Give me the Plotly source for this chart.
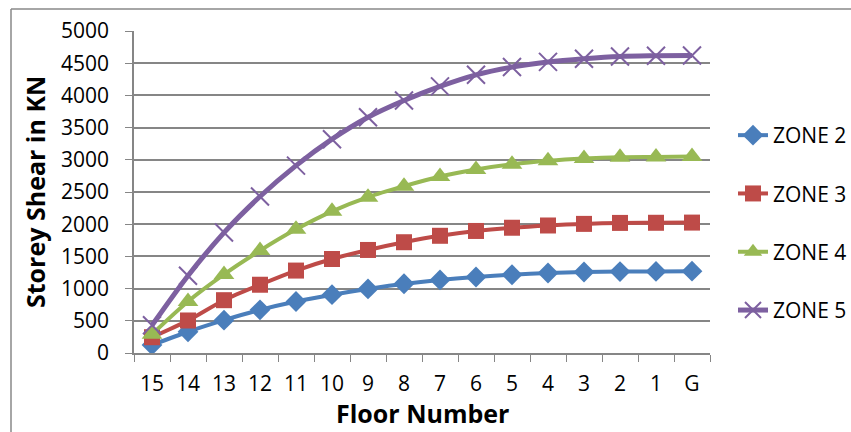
import plotly.graph_objects as go

floors = ["15", "14", "13", "12", "11", "10", "9", "8", "7", "6", "5", "4", "3", "2", "1", "G"]
zone2 = [125, 330, 510, 670, 800, 905, 995, 1075, 1135, 1180, 1215, 1242, 1258, 1264, 1267, 1270]
zone3 = [245, 505, 820, 1060, 1280, 1460, 1600, 1720, 1820, 1895, 1945, 1980, 2005, 2020, 2022, 2025]
zone4 = [290, 800, 1220, 1590, 1920, 2200, 2420, 2590, 2740, 2850, 2930, 2985, 3020, 3040, 3045, 3050]
zone5 = [430, 1200, 1870, 2430, 2910, 3320, 3660, 3920, 4140, 4320, 4440, 4520, 4570, 4605, 4615, 4620]
series_names = ["ZONE 2", "ZONE 3", "ZONE 4", "ZONE 5"]
y_ticks = [0, 500, 1000, 1500, 2000, 2500, 3000, 3500, 4000, 4500, 5000]

colors = ["#4A7EBB", "#BE4B48", "#98B954", "#7D60A0"]
symbols = ["diamond", "square", "triangle-up", "x-thin"]
msizes = [16, 16, 18, 18]
lwidths = [4, 4, 4, 5]

W, H = 851, 432
L, R, T, B = 134, 141, 31, 79
pw, ph = W - L - R, H - T - B

fig = go.Figure()
for i, (name, vals) in enumerate(zip(series_names, [zone2, zone3, zone4, zone5])):
    marker = dict(symbol=symbols[i], size=msizes[i], color=colors[i])
    if symbols[i] == "x-thin":
        marker["line"] = dict(color=colors[i], width=2)
    fig.add_trace(go.Scatter(
        x=floors, y=vals, name=name, mode="lines+markers",
        line=dict(color=colors[i], width=lwidths[i], shape="spline", smoothing=0.8),
        marker=marker, legendgroup=name,
    ))

font = "Open Sans"
fig.update_layout(
    width=W, height=H,
    margin=dict(l=L, r=R, t=T, b=B, autoexpand=False),
    paper_bgcolor="white", plot_bgcolor="white",
    font=dict(family=font, size=21, color="#000000"),
    showlegend=True,
    legend=dict(x=(733 - L) / pw, xanchor="left", y=(353 - 115) / ph, yanchor="top",
                font=dict(family=font, size=21, color="#000000"),
                tracegroupgap=28, itemwidth=30, bgcolor="rgba(0,0,0,0)"),
    xaxis=dict(type="category", range=[-0.5, 15.5], showgrid=False,
               showline=True, linecolor="#868686", linewidth=1.5,
               ticks="outside", tickson="boundaries", ticklen=7, tickcolor="#868686",
               ticklabelstandoff=11,
               tickfont=dict(family=font, size=21), fixedrange=True),
    yaxis=dict(range=[0, 5000], tickvals=y_ticks, showgrid=True, gridcolor="#868686", gridwidth=1.5,
               showline=True, linecolor="#868686", linewidth=1.5,
               ticks="outside", ticklen=7, tickcolor="#868686",
               ticklabelstandoff=12,
               tickfont=dict(family=font, size=21), zeroline=False),
    annotations=[
        dict(text="<b>Floor Number</b>", xref="paper", yref="paper", x=0.5, y=(353 - 413) / ph,
             xanchor="center", yanchor="middle", showarrow=False, font=dict(family=font, size=25)),
        dict(text="<b>Storey Shear in KN</b>", xref="paper", yref="paper", x=(35 - L) / pw, y=(353 - 192) / ph,
             xanchor="center", yanchor="middle", textangle=-90, showarrow=False, font=dict(family=font, size=25)),
    ],
    shapes=[
        dict(type="line", xref="paper", yref="paper", x0=(11 - L) / pw, x1=(851 - L) / pw,
             y0=(353 - 9) / ph, y1=(353 - 9) / ph, line=dict(color="#898989", width=1.5)),
        dict(type="line", xref="paper", yref="paper", x0=(11 - L) / pw, x1=(11 - L) / pw,
             y0=(353 - 9) / ph, y1=(353 - 432) / ph, line=dict(color="#898989", width=1.5)),
    ],
)

fig.write_html("out.html")
